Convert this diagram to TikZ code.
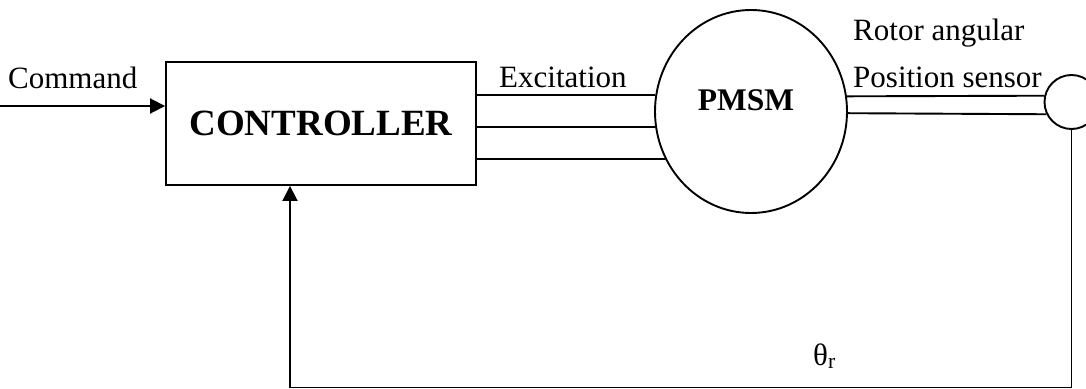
\documentclass[tikz,border=0pt]{standalone}
\usepackage{fontspec}
\setmainfont{Liberation Serif}
\usetikzlibrary{shapes.geometric,arrows.meta}
\begin{document}
\begin{tikzpicture}[x=1pt,y=-1pt,
  wire/.style={line width=1.9pt},
  feed/.style={wire,-{Triangle[length=15pt,width=15pt]}},
  lbl/.style={inner sep=0pt,anchor=base west,font=\fontsize{31}{36}\selectfont},
  ctrlbox/.style={draw,line width=1.9pt,minimum width=310pt,minimum height=123pt,inner sep=0pt,
    font=\fontsize{37}{42}\selectfont\bfseries},
  motor/.style={ellipse,draw,line width=1.9pt,minimum width=192pt,minimum height=203pt,inner sep=0pt},
  sensorc/.style={circle,draw,line width=1.9pt,minimum size=54pt,inner sep=0pt}]
\useasboundingbox (0,0) rectangle (1086,388);

% blocks
\node[ctrlbox] (ctrl) at (321,123.5) {CONTROLLER};
\node[motor] (pmsm) at (751,111.5) {};
\node[inner sep=0pt,anchor=base,font=\fontsize{31.5}{36}\selectfont\bfseries] (pmsmtxt) at (746,110) {PMSM};
\node[sensorc] (sensor) at (1071.5,102) {};

% labels
\node[lbl] (cmd) at (8,88) {Command};
\node[lbl] (exc) at (499,87) {Excitation};
\node[lbl] (rot) at (853,40) {Rotor angular};
\node[lbl] (pos) at (853,87) {Position sensor};
\node[lbl] (theta) at (813,365) {θ\textsubscript{r}};

% command input
\coordinate (cin) at (0,106);
\draw[feed] (cin) -- (cin -| ctrl.west);

% three-phase excitation lines
\foreach \a in {170.12,189.88,209.25}
  \draw[wire] (pmsm.\a) -- (pmsm.\a -| ctrl.east);

% shaft to the position sensor
\draw[wire] (pmsm.9.28) -- (sensor.167.16);
\draw[wire] (pmsm.-1.49) -- (sensor.206.39);

% angle feedback
\coordinate (fbR) at (1071.5,387.5);
\coordinate (fbL) at (290,387.5);
\draw[feed] (sensor.south) -- (fbR) -- (fbL) -- (fbL |- ctrl.south);
\end{tikzpicture}
\end{document}
